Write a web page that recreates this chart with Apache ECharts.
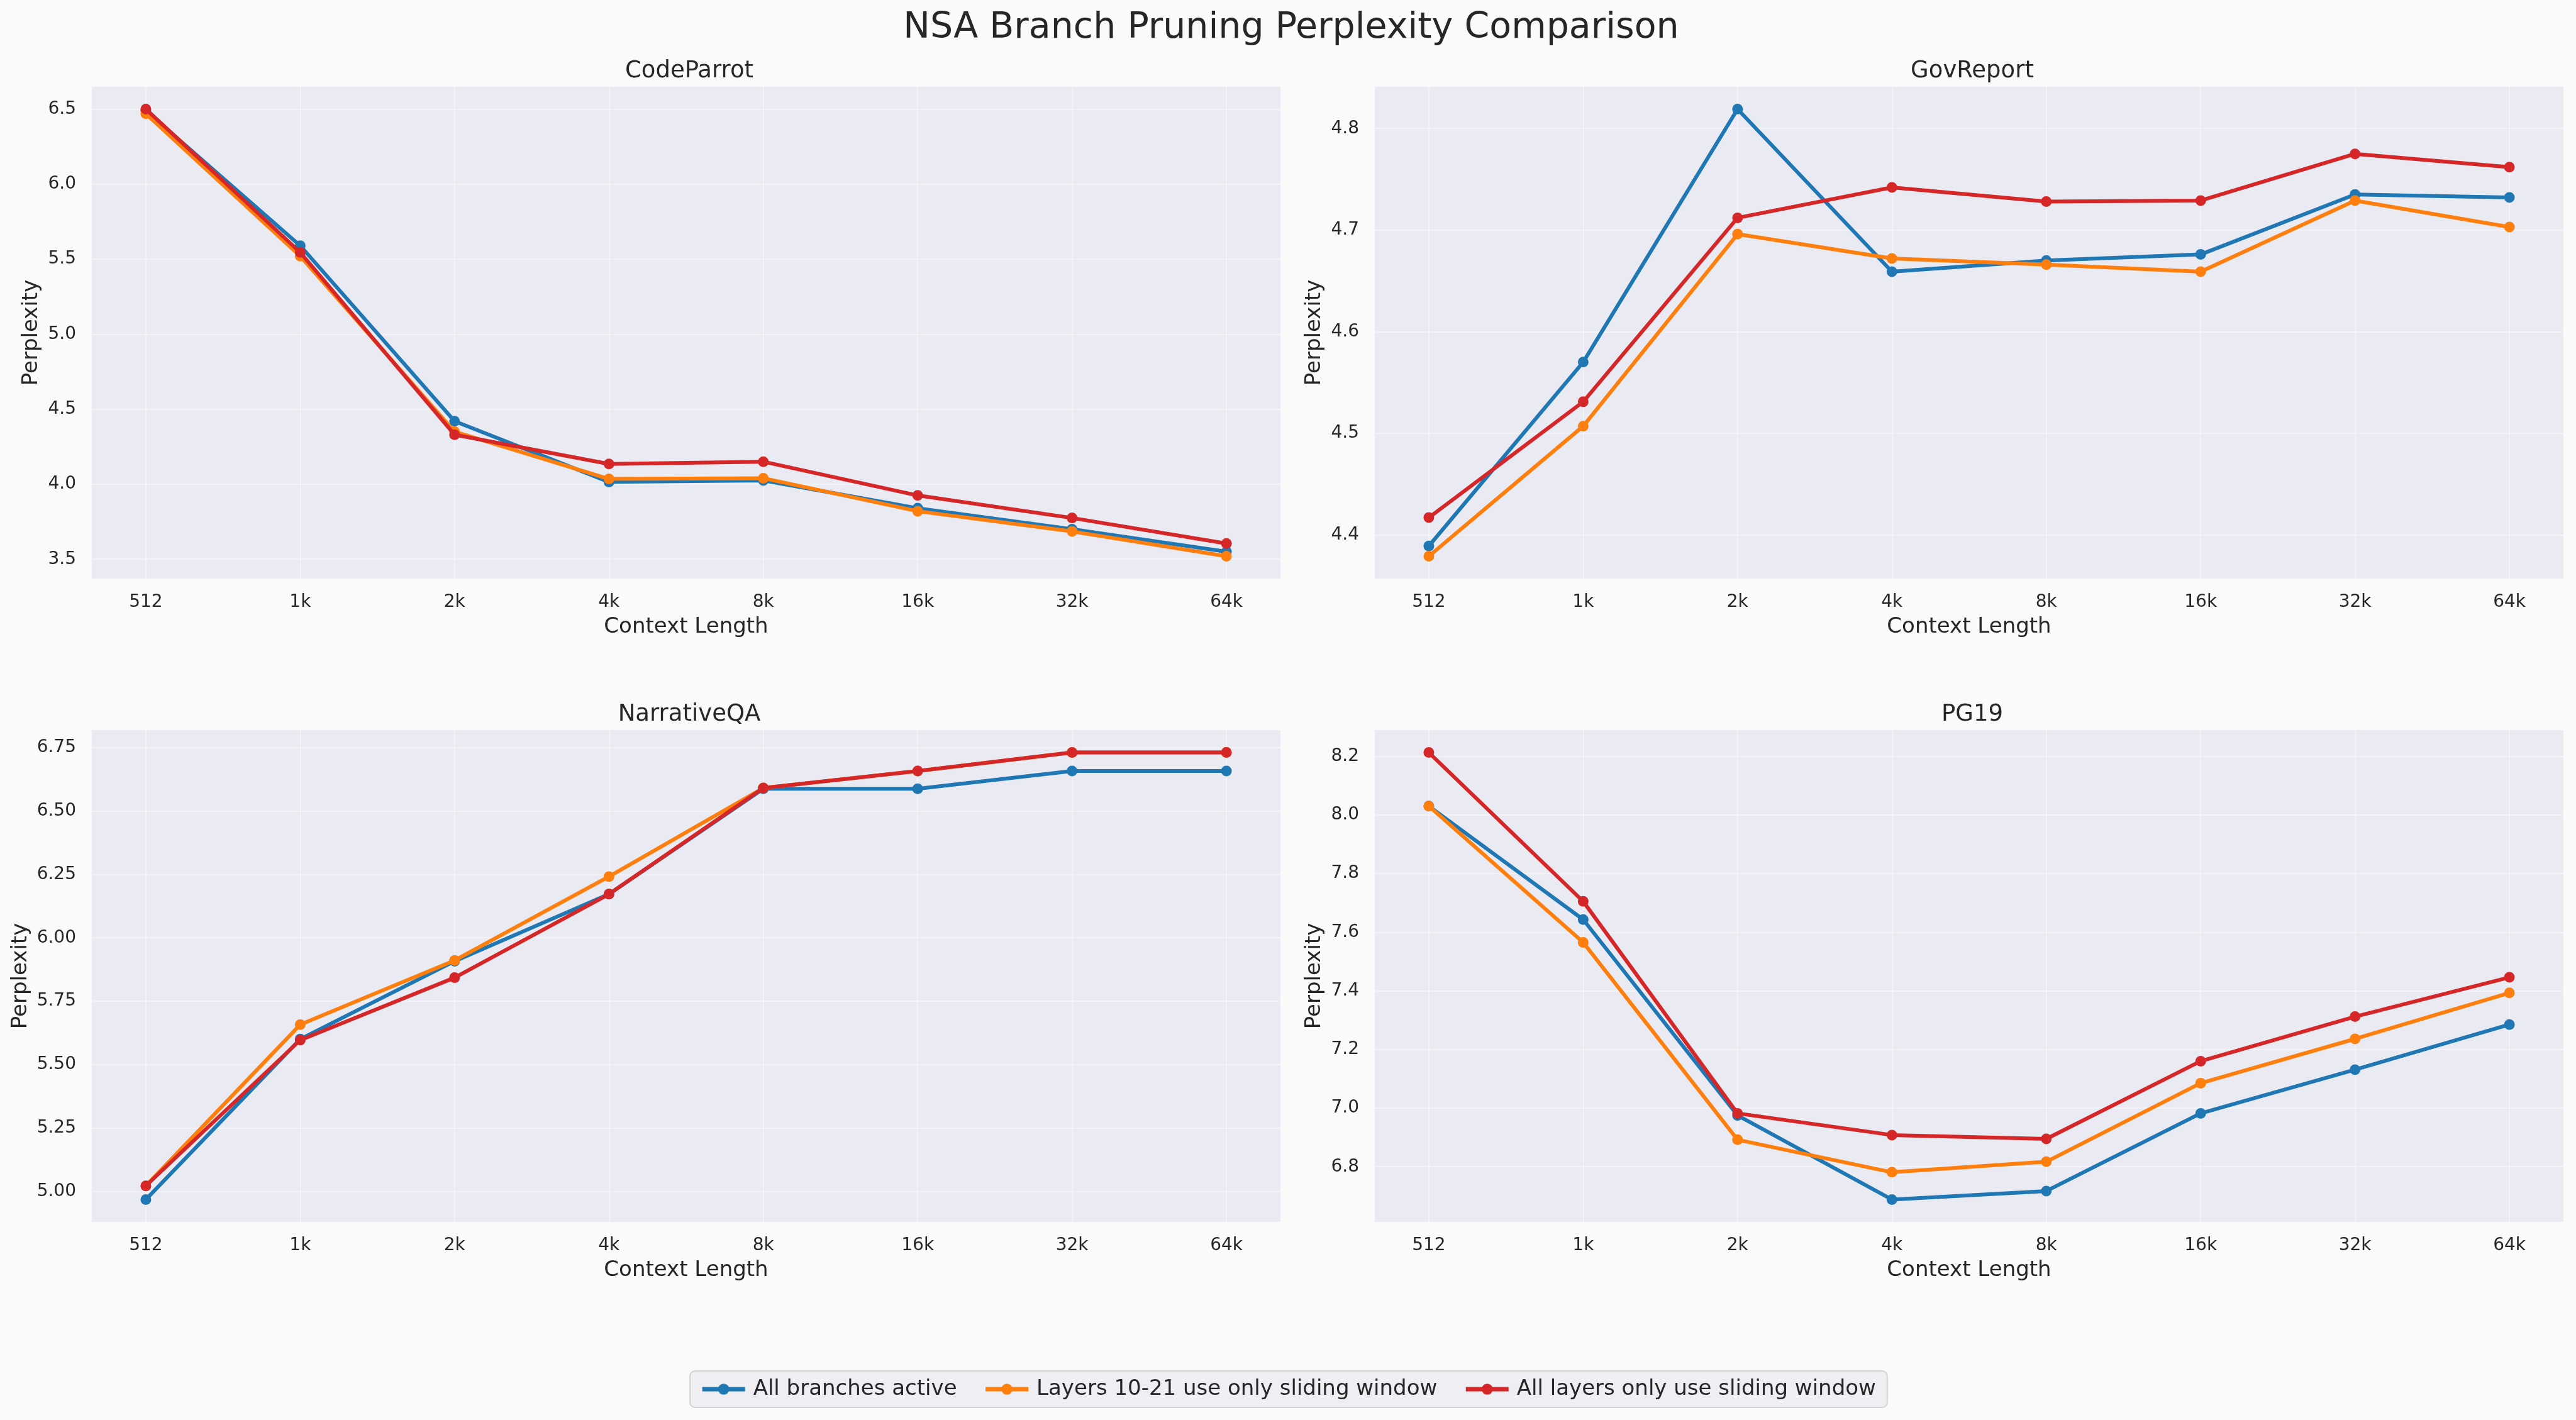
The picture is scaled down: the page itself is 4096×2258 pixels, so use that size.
<!DOCTYPE html>
<html>
<head>
<meta charset="utf-8">
<title>NSA Branch Pruning Perplexity Comparison</title>
<script src="https://cdn.jsdelivr.net/npm/echarts@6/dist/echarts.min.js"></script>
<style>
  html, body { margin: 0; padding: 0; background: #fafafa; }
  #chart { width: 4096px; height: 2258px; }
</style>
</head>
<body>
<div id="chart"></div>
<script>
// context lengths on the x axis
const contextLengths = ['512', '1k', '2k', '4k', '8k', '16k', '32k', '64k'];
const seriesNames = ['All branches active', 'Layers 10-21 use only sliding window', 'All layers only use sliding window'];
const seriesColors = ['#1f77b4', '#ff7f0e', '#d62728'];

// CodeParrot
const codeParrotAll = [6.49, 5.59, 4.42, 4.015, 4.025, 3.84, 3.70, 3.55];
const codeParrotLayers = [6.47, 5.52, 4.35, 4.035, 4.04, 3.82, 3.685, 3.52];
const codeParrotSliding = [6.50, 5.545, 4.33, 4.135, 4.15, 3.925, 3.775, 3.605];
const codeParrotTicks = [3.5, 4.0, 4.5, 5.0, 5.5, 6.0, 6.5];

// GovReport
const govReportAll = [4.389, 4.570, 4.819, 4.659, 4.670, 4.676, 4.735, 4.732];
const govReportLayers = [4.379, 4.507, 4.696, 4.672, 4.666, 4.659, 4.729, 4.703];
const govReportSliding = [4.417, 4.531, 4.712, 4.742, 4.728, 4.729, 4.775, 4.762];
const govReportTicks = [4.4, 4.5, 4.6, 4.7, 4.8];

// NarrativeQA
const narrativeAll = [4.969, 5.601, 5.908, 6.172, 6.587, 6.587, 6.657, 6.657];
const narrativeLayers = [5.023, 5.658, 5.911, 6.241, 6.59, 6.657, 6.73, 6.73];
const narrativeSliding = [5.023, 5.597, 5.843, 6.172, 6.59, 6.657, 6.73, 6.73];
const narrativeTicks = [5.00, 5.25, 5.50, 5.75, 6.00, 6.25, 6.50, 6.75];

// PG19
const pg19All = [8.030, 7.643, 6.975, 6.688, 6.717, 6.982, 7.131, 7.285];
const pg19Layers = [8.03, 7.565, 6.892, 6.781, 6.817, 7.085, 7.236, 7.393];
const pg19Sliding = [8.213, 7.705, 6.982, 6.908, 6.895, 7.160, 7.312, 7.446];
const pg19Ticks = [6.8, 7.0, 7.2, 7.4, 7.6, 7.8, 8.0, 8.2];

const panels = [
    { name: 'CodeParrot', data: [codeParrotAll, codeParrotLayers, codeParrotSliding], ticks: codeParrotTicks, digits: 1, left: 146, top: 138, nameGap: 79 },
    { name: 'GovReport', data: [govReportAll, govReportLayers, govReportSliding], ticks: govReportTicks, digits: 1, left: 2186, top: 138, nameGap: 79 },
    { name: 'NarrativeQA', data: [narrativeAll, narrativeLayers, narrativeSliding], ticks: narrativeTicks, digits: 2, left: 146, top: 1161, nameGap: 96 },
    { name: 'PG19', data: [pg19All, pg19Layers, pg19Sliding], ticks: pg19Ticks, digits: 1, left: 2186, top: 1161, nameGap: 79 }
];
const plotW = 1890, plotH = 782;

const font = 'DejaVu Sans';
const textColor = '#262626';
const gridLine = { show: true, lineStyle: { color: 'rgba(255,255,255,0.4)', width: 2 } };

const chart = echarts.init(document.getElementById('chart'), null, { renderer: 'canvas' });

const titles = [{
    text: 'NSA Branch Pruning Perplexity Comparison',
    left: 2048, top: 12, textAlign: 'center',
    textStyle: { fontFamily: font, fontSize: 57, fontWeight: 'normal', color: textColor }
}];
const grids = [], xAxes = [], yAxes = [], series = [];

panels.forEach((p, k) => {
    titles.push({
        text: p.name,
        left: p.left + plotW / 2, top: p.top - 48, textAlign: 'center',
        textStyle: { fontFamily: font, fontSize: 37, fontWeight: 'normal', color: textColor }
    });
    grids.push({ left: p.left, top: p.top, width: plotW, height: plotH, show: true, backgroundColor: '#eaeaf2', borderWidth: 0 });

    xAxes.push({
        type: 'value', gridIndex: k, min: -0.35, max: 7.35,
        name: 'Context Length', nameLocation: 'middle', nameGap: 60,
        nameTextStyle: { fontFamily: font, fontSize: 34, color: textColor },
        axisLine: { show: false },
        axisTick: { show: false, customValues: contextLengths.map((c, i) => i) },
        axisLabel: {
            customValues: contextLengths.map((c, i) => i),
            formatter: v => contextLengths[Math.round(v)],
            fontFamily: font, fontSize: 28, color: textColor, margin: 24
        },
        splitLine: gridLine
    });

    const all = [].concat(...p.data);
    const lo = Math.min(...all), hi = Math.max(...all);
    const pad = (hi - lo) * 0.05;
    yAxes.push({
        type: 'value', gridIndex: k, min: lo - pad, max: hi + pad,
        name: 'Perplexity', nameLocation: 'middle', nameGap: p.nameGap, nameRotate: 90,
        nameTextStyle: { fontFamily: font, fontSize: 34, color: textColor },
        axisLine: { show: false },
        axisTick: { show: false, customValues: p.ticks },
        axisLabel: {
            customValues: p.ticks,
            formatter: v => v.toFixed(p.digits),
            fontFamily: font, fontSize: 28, color: textColor, margin: 25
        },
        splitLine: gridLine
    });

    p.data.forEach((vals, s) => {
        series.push({
            name: seriesNames[s],
            type: 'line',
            xAxisIndex: k, yAxisIndex: k,
            data: vals.map((v, i) => [i, v]),
            symbol: 'circle', symbolSize: 17,
            lineStyle: { width: 6, color: seriesColors[s] },
            itemStyle: { color: seriesColors[s] },
            z: 2 + s,
            animation: false
        });
    });
});

chart.setOption({
    backgroundColor: '#fafafa',
    animation: false,
    title: titles,
    grid: grids,
    xAxis: xAxes,
    yAxis: yAxes,
    legend: {
        data: seriesNames,
        left: 'center', top: 2180,
        backgroundColor: '#eeeef3',
        borderColor: '#d2d2d2', borderWidth: 2, borderRadius: 8,
        padding: [12, 18, 12, 16],
        itemWidth: 68, itemHeight: 22, itemGap: 42,
        lineStyle: { width: 7 },
        textStyle: { fontFamily: font, fontSize: 34, color: textColor, padding: [0, 0, 0, 8] }
    },
    series: series
});
</script>
</body>
</html>
